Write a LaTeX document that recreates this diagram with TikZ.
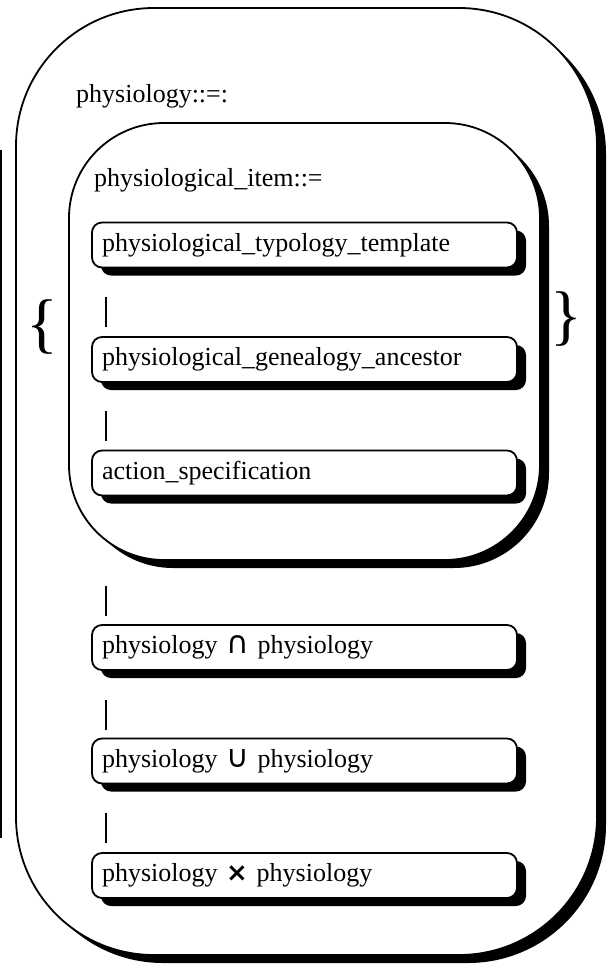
\documentclass[tikz,border=0pt]{standalone}
\usepackage{fontspec}
\setmainfont{Liberation Serif}
\newfontfamily\symfont{DejaVu Sans}
\usetikzlibrary{shadows, positioning}
\tikzset{
  blackshadow/.style={drop shadow={shadow xshift=9pt, shadow yshift=-8pt, fill=black, opacity=1}},
  bigbox/.style={draw, fill=white, line width=1.8pt, blackshadow},
  itembox/.style={draw, fill=white, line width=1.8pt, rounded corners=10pt, blackshadow,
    minimum width=425pt, minimum height=45pt, text width=405pt, inner xsep=10pt, align=left},
  barmark/.style={inner sep=0pt},
  bracemark/.style={inner sep=0pt, font=\fontsize{66}{66}\selectfont}
}
\newcommand{\setop}[1]{{\symfont\fontsize{31}{30}\selectfont #1}}

\begin{document}
\begin{tikzpicture}[x=1pt, y=-1pt, font=\fontsize{26}{30}\selectfont]
        \useasboundingbox (0,0) rectangle (609,967);

        \draw [line width=2pt] (1,150)--(1,838);

        \node [bigbox, rounded corners=138pt, minimum width=581pt, minimum height=947pt] (physiology) at (306.5,481.5) {};
        \node [anchor=base west, inner sep=0pt] (physdef) at (76,102) {physiology::=:};

        \node [bigbox, rounded corners=95pt, minimum width=471pt, minimum height=437pt] (item) at (304.5,341.5) {};
        \node [anchor=base west, inner sep=0pt] (itemdef) at (94,186) {physiological\_item::=};

        \node [itembox] (typology) at (304.5,245) {physiological\_typology\_template};
        \node [itembox] (genealogy) at (304.5,359.5) {physiological\_genealogy\_ancestor};
        \node [itembox] (action) at (304.5,473) {action\_specification};

        \node [itembox] (inter) at (304.5,647.5) {physiology \setop{∩} physiology};
        \node [itembox] (union) at (304.5,761) {physiology \setop{∪} physiology};
        \node [itembox] (product) at (304.5,875.5) {physiology {\symfont\bfseries ×} physiology};

        \node [barmark] (bar1) at (106,312) {\rule{2.6pt}{30pt}};
        \node [barmark] (bar2) at (106,425.5) {\rule{2.6pt}{30pt}};
        \node [barmark] (bar3) at (106,600.5) {\rule{2.6pt}{30pt}};
        \node [barmark] (bar4) at (106,714.5) {\rule{2.6pt}{30pt}};
        \node [barmark] (bar5) at (106,828) {\rule{2.6pt}{30pt}};

        \node [bracemark] (lbrace) at (42,327) {\{};
        \node [bracemark] (rbrace) at (566,319) {\}};

\end{tikzpicture}
\end{document}
